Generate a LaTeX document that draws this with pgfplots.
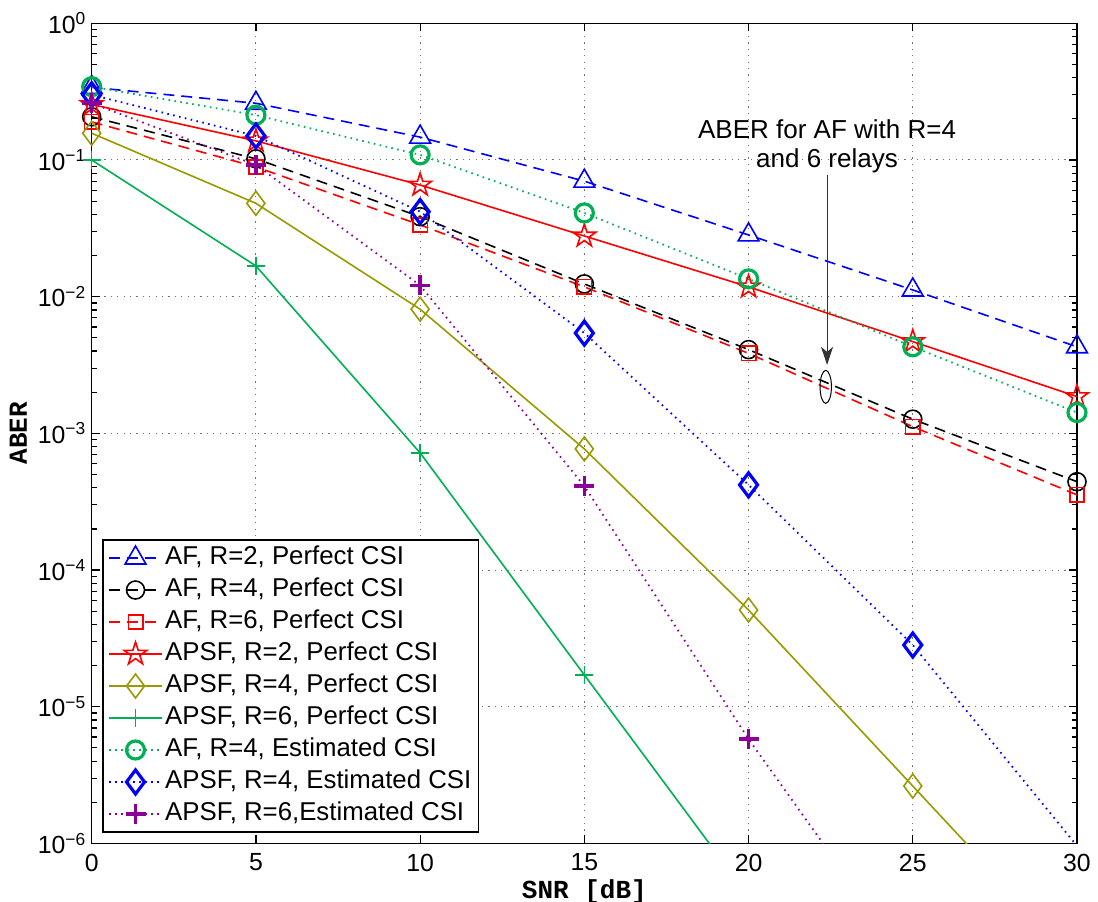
\documentclass[border=0pt]{standalone}
\usepackage{fontspec}
\setmainfont{Liberation Sans}
\setmonofont{Liberation Mono}
\usepackage{pgfplots}
\pgfplotsset{compat=1.18}
\usetikzlibrary{arrows.meta,plotmarks}
\definecolor{olive2}{rgb}{0.6,0.6,0}
\definecolor{mygreen}{rgb}{0,0.69,0.33}
\definecolor{mypurple}{rgb}{0.55,0,0.6}
\pgfdeclareplotmark{pentagram}{%
  \pgfpathmoveto{\pgfpointpolar{90}{\pgfplotmarksize}}%
  \pgfpathlineto{\pgfpointpolar{126}{0.382\pgfplotmarksize}}%
  \pgfpathlineto{\pgfpointpolar{162}{\pgfplotmarksize}}%
  \pgfpathlineto{\pgfpointpolar{198}{0.382\pgfplotmarksize}}%
  \pgfpathlineto{\pgfpointpolar{234}{\pgfplotmarksize}}%
  \pgfpathlineto{\pgfpointpolar{270}{0.382\pgfplotmarksize}}%
  \pgfpathlineto{\pgfpointpolar{306}{\pgfplotmarksize}}%
  \pgfpathlineto{\pgfpointpolar{342}{0.382\pgfplotmarksize}}%
  \pgfpathlineto{\pgfpointpolar{18}{\pgfplotmarksize}}%
  \pgfpathlineto{\pgfpointpolar{54}{0.382\pgfplotmarksize}}%
  \pgfpathclose
  \pgfusepathqstroke
}
\begin{document}
\begin{tikzpicture}
\begin{semilogyaxis}[
  at={(0pt,0pt)}, anchor=south west,
  scale only axis, width=492.7pt, height=410.1pt,
  xmin=0, xmax=30, ymin=1e-6, ymax=1,
  xtick={0,5,10,15,20,25,30},
  ytick={1e-6,1e-5,1e-4,1e-3,1e-2,1e-1,1},
  yticklabels={10\textsuperscript{−6},10\textsuperscript{−5},10\textsuperscript{−4},10\textsuperscript{−3},10\textsuperscript{−2},10\textsuperscript{−1},10\textsuperscript{0}},
  tick align=inside, tick pos=both,
  major tick length=4pt, minor tick length=2.5pt,
  grid=major,
  major grid style={black!55, line width=0.5pt, dash pattern=on 0.6pt off 2.6pt},
  axis line style={line width=0.75pt},
  every tick/.style={black, line width=0.6pt},
  tick label style={font=\fontsize{12.4}{14}\selectfont},
  /pgf/number format/assume math mode=true,
  xticklabel style={inner ysep=0.5pt, yshift=-4.5pt},
  yticklabel style={inner xsep=2.5pt},
  xlabel={SNR [dB]},
  ylabel={ABER},
  xlabel style={at={(axis description cs:0.5,0)}, anchor=center, yshift=-24.2pt, inner sep=0pt, font=\fontsize{13}{15}\selectfont\ttfamily\bfseries},
  ylabel style={at={(axis description cs:-0.0745,0.5)}, anchor=center, font=\fontsize{13}{15}\selectfont\ttfamily\bfseries},
  legend style={at={(axis description cs:0.0109,0.3707)}, anchor=north west, draw=black, line width=0.6pt, fill=white,
    inner xsep=2.5pt, inner ysep=1pt, row sep=0pt, font=\fontsize{12.9}{14}\selectfont,
    nodes={inner ysep=1.75pt, inner xsep=1pt, text height=9.6pt, text depth=2.9pt}},
  legend cell align=left,
  legend image code/.code={\draw[mark repeat=2, mark phase=2, #1, mark indices={2}] plot coordinates {(0pt,0pt) (13.3pt,0pt) (26.7pt,0pt)};},
]
\addplot[blue, line width=0.8pt, dash pattern=on 5.5pt off 3.5pt, mark=triangle, mark size=6pt, mark options={solid}]
  coordinates {(0,0.34) (5,0.26) (10,0.147) (15,0.070) (20,0.0283) (25,0.0112) (30,0.0043)};
\addlegendentry{AF, R=2, Perfect CSI}
\addplot[black, line width=0.8pt, dash pattern=on 5.5pt off 3.5pt, mark=o, mark size=4.5pt, mark options={solid}]
  coordinates {(0,0.207) (5,0.102) (10,0.0385) (15,0.0124) (20,0.0041) (25,0.00127) (30,0.000443)};
\addlegendentry{AF, R=4, Perfect CSI}
\addplot[red, line width=0.8pt, dash pattern=on 5.5pt off 3.5pt, mark=square, mark size=3.6pt, mark options={solid}]
  coordinates {(0,0.19) (5,0.089) (10,0.0335) (15,0.0118) (20,0.00385) (25,0.00112) (30,0.000355)};
\addlegendentry{AF, R=6, Perfect CSI}
\addplot[red, line width=0.8pt, solid, mark=pentagram, mark size=6pt]
  coordinates {(0,0.255) (5,0.138) (10,0.0656) (15,0.0278) (20,0.0118) (25,0.00469) (30,0.00186)};
\addlegendentry{APSF, R=2, Perfect CSI}
\addplot[olive2, line width=0.8pt, solid, mark=diamond, mark size=6pt, mark indices={1,2,3,4,5,6}]
  coordinates {(0,0.157) (5,0.0482) (10,0.0081) (15,0.00077) (20,5.1e-5) (25,2.63e-6) (30,1.35e-7)};
\addlegendentry{APSF, R=4, Perfect CSI}
\addplot[mygreen, line width=0.8pt, solid, mark=+, mark size=4.5pt, mark indices={1,2,3,4}]
  coordinates {(0,0.1) (5,0.0168) (10,7.2e-4) (15,1.71e-5) (20,4.1e-7)};
\addlegendentry{APSF, R=6, Perfect CSI}
\addplot[mygreen, line width=0.9pt, dash pattern=on 0.8pt off 2.2pt, mark=o, mark size=4.5pt, mark options={solid, line width=1.6pt}]
  coordinates {(0,0.344) (5,0.213) (10,0.109) (15,0.041) (20,0.0135) (25,0.0043) (30,0.00142)};
\addlegendentry{AF, R=4, Estimated CSI}
\addplot[blue, line width=0.9pt, dash pattern=on 0.8pt off 2.2pt, mark=diamond, mark size=6pt, mark options={solid, line width=1.6pt}, mark indices={1,2,3,4,5,6}]
  coordinates {(0,0.30) (5,0.150) (10,0.0419) (15,0.00542) (20,4.2e-4) (25,2.83e-5) (30,9.6e-7)};
\addlegendentry{APSF, R=4, Estimated CSI}
\addplot[mypurple, line width=0.9pt, dash pattern=on 0.8pt off 2.2pt, mark=+, mark size=5pt, mark options={solid, line width=1.8pt}, mark indices={1,2,3,4,5}]
  coordinates {(0,0.26) (5,0.092) (10,0.0121) (15,4.12e-4) (20,5.8e-6) (25,1.2e-7)};
\addlegendentry{APSF, R=6,Estimated CSI}
\node[font=\fontsize{13}{14.5}\selectfont, align=center, inner sep=0pt] at (axis cs:22.39,0.1257) {ABER for AF with R=4\\and 6 relays};
\draw[line width=0.5pt, black!80, -{Stealth[length=9pt,width=6pt,inset=2.5pt]}] (axis cs:22.39,0.0776) -- (axis cs:22.39,0.00317);
\draw[line width=0.5pt, black] (axis cs:22.35,0.00219) ellipse [x radius=2.85pt, y radius=8.25pt];
\end{semilogyaxis}
\pgfresetboundingbox
\path[use as bounding box] (-45.85pt,-29.25pt) rectangle (503.2pt,421.75pt);
\end{tikzpicture}
\end{document}
